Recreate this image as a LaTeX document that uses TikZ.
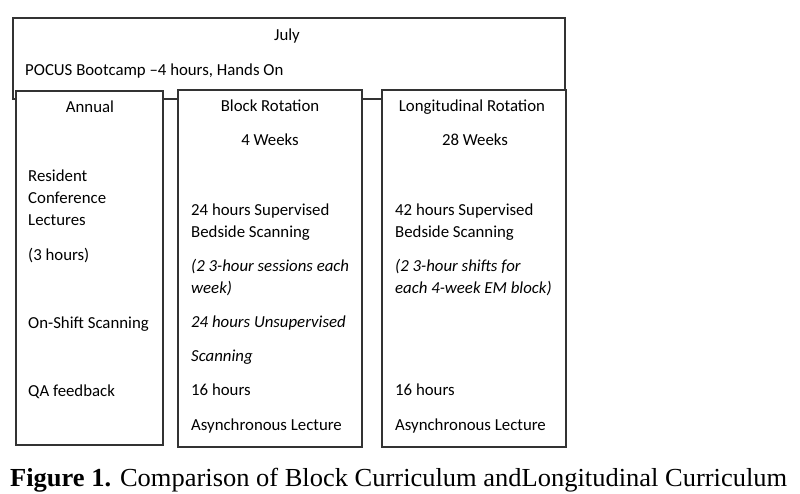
\documentclass[tikz,border=0pt]{standalone}
\usepackage{fontspec}
\setmainfont{Carlito}
\newfontfamily\capfont{Liberation Serif}
\begin{document}
\begin{tikzpicture}[x=1pt,y=1pt,
  frame/.style={draw=black!80, line width=1.2pt, fill=white},
  txt/.style={anchor=base west, inner sep=0pt, font=\fontsize{16.8}{20}\selectfont},
  ctxt/.style={anchor=base, inner sep=0pt, font=\fontsize{16.8}{20}\selectfont},
  itxt/.style={txt, font=\fontsize{16.8}{20}\selectfont\itshape}]
\useasboundingbox (0,0) rectangle (800,-493);
\fill[white] (0,0) rectangle (800,-493);
% top box
\draw[frame] (13,-18) rectangle (565,-99);
\coordinate (topbox) at (289,-58);
% columns
\draw[frame] (16,-91) rectangle (163,-445);
\draw[frame] (178,-90) rectangle (362,-447);
\draw[frame] (382,-90) rectangle (566,-447);
% top texts
\node[ctxt] (july) at (287,-40) {July};
\node[txt] (pocus) at (25,-75) {POCUS Bootcamp \textendash4 hours, Hands On};
% headers
\node[ctxt] (annual) at (90,-112) {Annual};
\node[ctxt] (block) at (270,-111) {Block Rotation};
\node[ctxt] (longi) at (472,-111) {Longitudinal Rotation};
\node[ctxt] (bw) at (270,-145) {4 Weeks};
\node[ctxt] (lw) at (475,-145) {28 Weeks};
% annual column
\node[txt] (a1) at (28,-181) {Resident};
\node[txt] (a2) at (28,-203) {Conference};
\node[txt] (a3) at (28,-225) {Lectures};
\node[txt] (a4) at (28,-260) {(3 hours)};
\node[txt] (a5) at (28,-328) {On-Shift Scanning};
\node[txt] (a6) at (28,-396) {QA feedback};
% block column
\node[txt] (b1) at (191,-215) {24 hours Supervised};
\node[txt] (b2) at (191,-237) {Bedside Scanning};
\node[itxt] (b3) at (191,-271) {(2 3-hour sessions each};
\node[itxt] (b4) at (191,-293) {week)};
\node[itxt] (b5) at (191,-327) {24 hours Unsupervised};
\node[itxt] (b6) at (191,-361) {Scanning};
\node[txt] (b7) at (191,-395) {16 hours};
\node[txt] (b8) at (191,-430) {Asynchronous Lecture};
% longitudinal column
\node[txt] (l1) at (395,-215) {42 hours Supervised};
\node[txt] (l2) at (395,-237) {Bedside Scanning};
\node[itxt] (l3) at (395,-271) {(2 3-hour shifts for};
\node[itxt] (l4) at (395,-293) {each 4-week EM block)};
\node[txt] (l7) at (395,-395) {16 hours};
\node[txt] (l8) at (395,-430) {Asynchronous Lecture};
% caption
\node[anchor=base west, inner sep=0pt] (cap) at (10,-486) {\resizebox{777pt}{\height}{\capfont\fontsize{26}{29}\selectfont\textbf{Figure 1.} Comparison of Block Curriculum andLongitudinal Curriculum}};
\end{tikzpicture}
\end{document}
